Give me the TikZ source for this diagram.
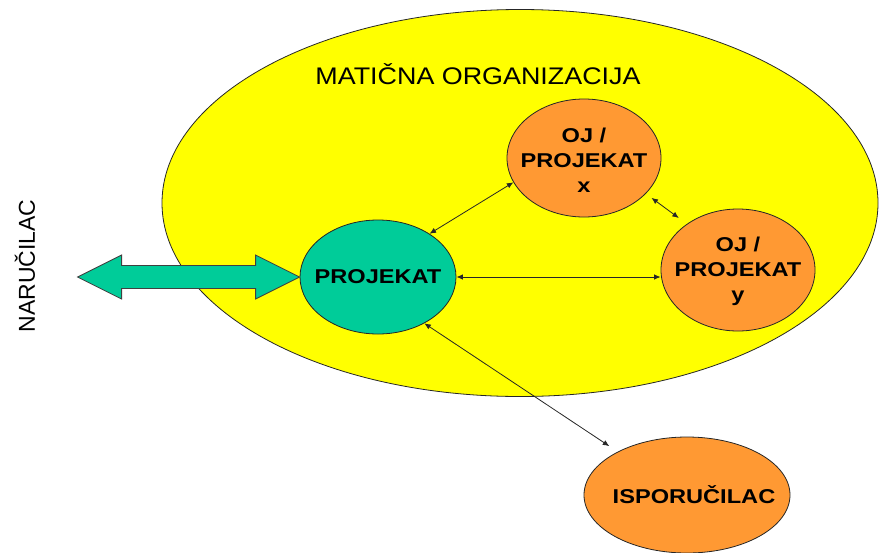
\documentclass[tikz,border=0pt]{standalone}
\usepackage{fontspec}
\setmainfont{Liberation Sans}
\newfontfamily\widefont[FakeStretch=1.12]{Liberation Sans}
\newfontfamily\widebold[FakeStretch=1.18]{Liberation Sans Bold}
\usetikzlibrary{shapes.geometric,arrows.meta,calc}
\definecolor{orgyellow}{HTML}{FFFF00}
\definecolor{projteal}{HTML}{00CC99}
\definecolor{ojorange}{HTML}{FF9933}
\begin{document}
\begin{tikzpicture}[x=1pt,y=-1pt,
  blob/.style={ellipse,draw=black!85,line width=0.8pt,inner sep=0pt},
  blobtext/.style={align=center,inner sep=0pt,font=\widebold\fontsize{20}{25}\selectfont},
  link/.style={black!85,line width=0.8pt,{Latex[length=6.5pt,width=5.5pt]}-{Latex[length=6.5pt,width=5.5pt]}},
  bigarrow/.style={draw=black!75,line width=0.8pt,fill=projteal,line join=miter}]
\useasboundingbox (0,0) rectangle (880,552);
\node[ellipse,draw=black!85,line width=0.8pt,fill=orgyellow,minimum width=716pt,minimum height=387pt] (org) at (520,203) {};
\node[font=\widefont\fontsize{24}{28}\selectfont] (orgname) at (478,74) {MATIČNA ORGANIZACIJA};
\node[rotate=90,font=\fontsize{23}{27}\selectfont] (narucilac) at (25,266) {NARUČILAC};
\node[blob,fill=projteal,minimum width=156pt,minimum height=114pt] (projekat) at (378,277) {};
\node[blobtext] (projekattext) at (projekat.center) {PROJEKAT};
\node[blob,fill=ojorange,minimum width=154pt,minimum height=118pt] (ojx) at (584,158) {};
\node[blobtext] (ojxtext) at ([yshift=-2pt]ojx.center) {OJ /\\PROJEKAT\\x};
\node[blob,fill=ojorange,minimum width=154pt,minimum height=122pt] (ojy) at (738,270) {};
\node[blobtext] (ojytext) at ([yshift=-1pt]ojy.center) {OJ /\\PROJEKAT\\y};
\node[blob,fill=ojorange,minimum width=206pt,minimum height=116pt] (isp) at (687,495) {};
\node[blobtext] (isptext) at ([xshift=7pt]isp.center) {ISPORUČILAC};
% big double arrow to the client
\draw[bigarrow] (projekat.west)
  -- ++(-44,-22) -- ++(0,10.5) -- ++(-134,0) -- ++(0,-10.5) -- ++(-44,22)
  -- ++(44,22) -- ++(0,-10.5) -- ++(134,0) -- ++(0,10.5) -- cycle;
% thin links
\draw[link] (projekat.40) -- (ojx.199);
\draw[link] (projekat.east) -- (projekat.east -| ojy.west);
\draw[link,shorten <=7pt,shorten >=10pt] (ojx.-30) -- (ojy.138);
\draw[link,shorten >=10pt] (projekat.-45) -- (isp.148);
\end{tikzpicture}
\end{document}
